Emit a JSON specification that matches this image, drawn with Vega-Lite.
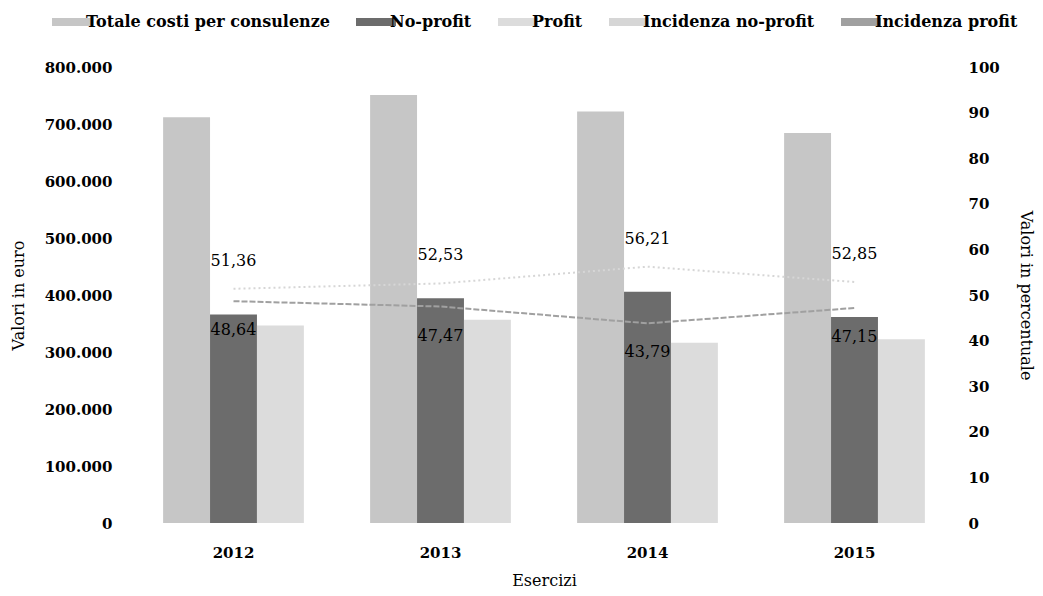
{
  "$schema": "https://vega.github.io/schema/vega-lite/v6.json",
  "width": 828,
  "height": 456,
  "autosize": {"type": "none"},
  "padding": {"left": 130, "top": 67, "right": 85, "bottom": 73},
  "background": "white",
  "config": {
    "locale": {"number": {"decimal": ",", "thousands": ".", "grouping": [3], "currency": ["", " €"]}},
    "font": "DejaVu Serif",
    "view": {"stroke": null},
    "axis": {
      "domain": false, "ticks": false, "grid": false,
      "labelFont": "DejaVu Serif", "labelFontSize": 15, "labelFontWeight": "bold", "labelColor": "#000",
      "titleFont": "DejaVu Serif", "titleFontSize": 16, "titleFontWeight": "normal", "titleColor": "#000"
    },
    "legend": {
      "orient": "none", "legendX": -68, "legendY": -55, "direction": "horizontal",
      "labelFont": "DejaVu Serif", "labelFontSize": 16, "labelFontWeight": "bold", "labelColor": "#000",
      "labelLimit": 0,
      "symbolType": "M-2,-0.4H2V0.4H-2Z", "symbolSize": 400, "symbolStrokeWidth": 0,
      "columnPadding": 26, "labelOffset": 4, "title": null
    }
  },
  "datasets": {
    "costi": [
      {"anno": "2012", "serie": "Totale costi per consulenze", "valore": 712000},
      {"anno": "2012", "serie": "No-profit", "valore": 365700},
      {"anno": "2012", "serie": "Profit", "valore": 346300},
      {"anno": "2013", "serie": "Totale costi per consulenze", "valore": 751000},
      {"anno": "2013", "serie": "No-profit", "valore": 394500},
      {"anno": "2013", "serie": "Profit", "valore": 356500},
      {"anno": "2014", "serie": "Totale costi per consulenze", "valore": 722000},
      {"anno": "2014", "serie": "No-profit", "valore": 405800},
      {"anno": "2014", "serie": "Profit", "valore": 316200},
      {"anno": "2015", "serie": "Totale costi per consulenze", "valore": 684000},
      {"anno": "2015", "serie": "No-profit", "valore": 361500},
      {"anno": "2015", "serie": "Profit", "valore": 322500}
    ],
    "pct": [
      {"anno": "2012", "serie": "Incidenza no-profit", "pct": 51.36},
      {"anno": "2012", "serie": "Incidenza profit", "pct": 48.64},
      {"anno": "2013", "serie": "Incidenza no-profit", "pct": 52.53},
      {"anno": "2013", "serie": "Incidenza profit", "pct": 47.47},
      {"anno": "2014", "serie": "Incidenza no-profit", "pct": 56.21},
      {"anno": "2014", "serie": "Incidenza profit", "pct": 43.79},
      {"anno": "2015", "serie": "Incidenza no-profit", "pct": 52.85},
      {"anno": "2015", "serie": "Incidenza profit", "pct": 47.15}
    ]
  },
  "encoding": {
    "x": {
      "field": "anno", "type": "nominal",
      "scale": {"paddingInner": 0.32, "paddingOuter": 0.16},
      "axis": {"title": "Esercizi", "labelAngle": 0, "labelPadding": 22, "titlePadding": 12}
    }
  },
  "layer": [
    {
      "data": {"name": "costi"},
      "mark": {"type": "bar"},
      "encoding": {
        "xOffset": {"field": "serie", "type": "nominal", "sort": ["Totale costi per consulenze", "No-profit", "Profit"]},
        "y": {
          "field": "valore", "type": "quantitative",
          "scale": {"domain": [0, 800000]},
          "axis": {"title": "Valori in euro", "orient": "left", "format": ",.0f",
                   "values": [0, 100000, 200000, 300000, 400000, 500000, 600000, 700000, 800000],
                   "labelPadding": 18, "titlePadding": 18}
        },
        "color": {
          "field": "serie", "type": "nominal",
          "scale": {
            "domain": ["Totale costi per consulenze", "No-profit", "Profit", "Incidenza no-profit", "Incidenza profit"],
            "range": ["#c6c6c6", "#6c6c6c", "#dcdcdc", "#d6d6d6", "#a0a0a0"]
          }
        }
      }
    },
    {
      "data": {"name": "pct"},
      "encoding": {
        "y": {
          "field": "pct", "type": "quantitative",
          "scale": {"domain": [0, 100]},
          "axis": {"title": "Valori in percentuale", "orient": "right",
                   "values": [0, 10, 20, 30, 40, 50, 60, 70, 80, 90, 100],
                   "labelPadding": 10, "titlePadding": 18}
        }
      },
      "layer": [
        {
          "transform": [{"filter": "datum.serie === 'Incidenza no-profit'"}],
          "mark": {"type": "line", "strokeWidth": 2, "strokeDash": [2, 3]},
          "encoding": {"color": {"field": "serie", "type": "nominal"}}
        },
        {
          "transform": [{"filter": "datum.serie === 'Incidenza profit'"}],
          "mark": {"type": "line", "strokeWidth": 2, "strokeDash": [6, 2]},
          "encoding": {"color": {"field": "serie", "type": "nominal"}}
        },
        {
          "transform": [{"filter": "datum.serie === 'Incidenza no-profit'"}],
          "mark": {"type": "text", "dy": -28, "fontSize": 16, "color": "#000", "font": "DejaVu Serif"},
          "encoding": {"text": {"field": "pct", "type": "quantitative", "format": ".2f"}}
        },
        {
          "transform": [{"filter": "datum.serie === 'Incidenza profit'"}],
          "mark": {"type": "text", "dy": 29, "fontSize": 16, "color": "#000", "font": "DejaVu Serif"},
          "encoding": {"text": {"field": "pct", "type": "quantitative", "format": ".2f"}}
        }
      ]
    }
  ],
  "resolve": {"scale": {"y": "independent"}}
}
